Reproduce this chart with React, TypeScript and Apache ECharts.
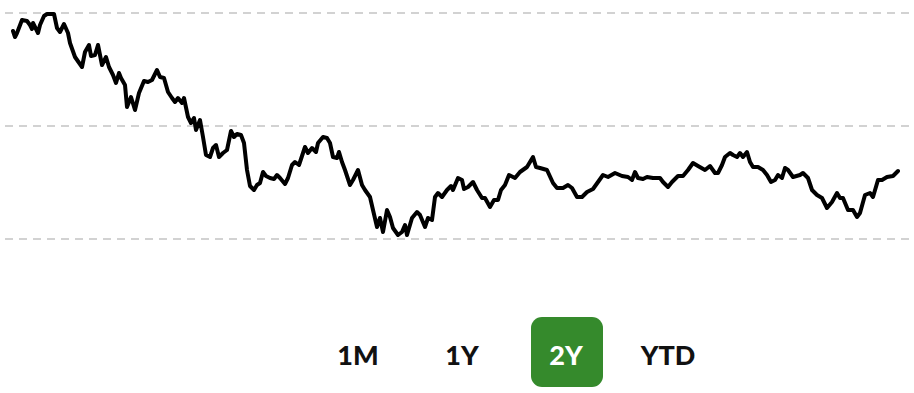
import React, { useEffect, useRef } from "react";
import * as echarts from "echarts";

const days = [0,2,4,9,14,17,19,20,25,27,31,34,41,44,47,51,55,57,62,69,72,76,78,82,85,89,93,96,100,103,106,108,112,114,118,122,126,131,135,139,144,147,151,155,159,162,165,169,171,175,178,181,183,187,190,193,197,200,203,206,210,214,218,221,224,228,231,234,237,241,244,247,250,253,257,261,264,267,272,275,279,282,286,292,295,299,303,305,310,314,317,320,324,326,329,332,337,340,345,349,352,357,360,364,367,370,374,377,380,385,389,392,394,399,404,407,412,415,419,422,425,429,434,438,440,445,449,451,455,460,464,469,472,477,481,485,488,492,496,502,507,514,520,523,527,534,540,544,550,555,559,564,569,574,580,585,590,595,602,609,615,619,622,625,630,634,640,647,650,655,659,665,670,675,680,685,692,697,702,705,709,712,717,720,724,727,730,734,737,740,745,750,754,758,762,765,769,772,775,780,787,790,795,799,804,809,814,819,824,827,830,835,840,844,847,852,857,860,865,869,874,880,885];
const values = [208,202,206,219,218,214,210,216,206,214,223,225,225,211,207,215,206,196,182,172,187,194,183,184,194,174,182,172,164,156,166,161,154,132,142,129,146,158,157,159,169,162,161,147,141,137,141,136,141,122,116,121,109,119,102,84,82,91,94,82,86,89,108,102,105,104,96,69,53,49,54,56,67,63,61,60,64,61,55,61,74,77,74,92,86,91,87,96,102,101,96,82,81,87,77,69,54,59,69,54,49,42,29,12,21,7,29,22,11,4,7,14,4,21,27,24,12,21,19,42,46,42,49,53,49,61,59,50,52,57,49,41,41,32,39,39,49,54,64,61,67,72,82,72,71,69,56,51,51,54,51,42,42,47,50,57,64,62,66,63,62,59,67,61,60,62,61,61,57,52,57,63,63,69,76,73,69,73,66,66,74,82,86,84,82,86,82,87,77,72,72,69,64,57,59,64,61,71,69,62,64,66,61,49,44,41,31,37,46,41,41,29,29,22,26,44,46,42,59,59,62,63,68];
const ranges = ["1M", "1Y", "2Y", "YTD"];
const activeRange = "2Y";
const rangeCenters = [358, 462, 566, 668];

export default function App() {
  const ref = useRef<HTMLDivElement>(null);
  useEffect(() => {
    if (!ref.current) return;
    const chart = echarts.init(ref.current, null, { renderer: "svg" });
    const graphics: any[] = [];
    ranges.forEach((r, i) => {
      const cx = rangeCenters[i];
      if (r === activeRange) {
        graphics.push({
          type: "rect",
          shape: { x: 531, y: 317, width: 72, height: 70, r: 11 },
          style: { fill: "#358a2c" },
        });
      }
      graphics.push({
        type: "text",
        x: cx,
        y: 354,
        style: {
          text: r,
          fill: r === activeRange ? "#ffffff" : "#111111",
          font: "900 27px Lato, 'Open Sans', sans-serif",
          align: "center",
          verticalAlign: "middle",
        },
      });
    });
    chart.setOption({
      animation: false,
      grid: { left: 5, right: 0, top: 13, bottom: 154, containLabel: false },
      xAxis: {
        type: "value",
        min: -8,
        max: 901,
        show: false,
        splitLine: { show: false },
      },
      yAxis: {
        type: "value",
        min: 0,
        max: 226,
        interval: 113,
        axisLine: { show: false },
        axisTick: { show: false },
        axisLabel: { show: false },
        splitLine: {
          show: true,
          lineStyle: { color: "#c4c4c4", width: 1.5, type: [8, 6] },
        },
      },
      series: [
        {
          type: "line",
          data: days.map((d, i) => [d, values[i]]),
          showSymbol: false,
          symbol: "none",
          lineStyle: { color: "#000000", width: 4, join: "round", cap: "round" },
          smooth: false,
        },
      ],
      graphic: graphics,
    });
    return () => chart.dispose();
  }, []);
  return (
    <div
      ref={ref}
      style={{ position: "absolute", left: 0, top: 0, width: 914, height: 393, background: "#fff" }}
    />
  );
}
